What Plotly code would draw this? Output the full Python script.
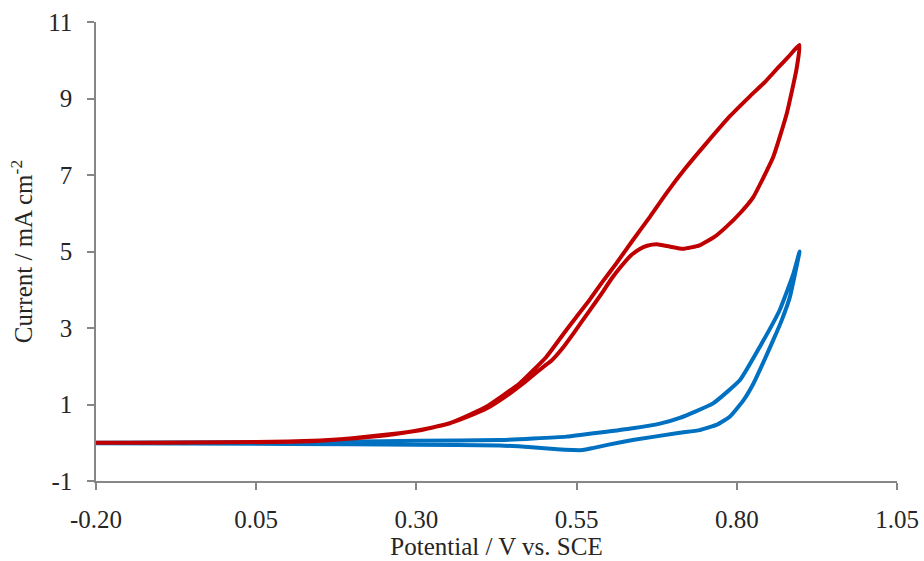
import plotly.graph_objects as go

# Cyclic voltammograms (anodic sweep then cathodic sweep), potential in V vs. SCE
red_fwd_E = [-0.20, -0.10, 0.00, 0.10, 0.15, 0.20, 0.25, 0.28, 0.31, 0.35, 0.38, 0.41, 0.44,
             0.47, 0.503, 0.511, 0.527, 0.546, 0.570, 0.589, 0.605, 0.620, 0.635, 0.648,
             0.660, 0.675, 0.695, 0.716, 0.742, 0.765, 0.784, 0.805, 0.826, 0.857, 0.878,
             0.893, 0.898]
red_fwd_I = [0.00, 0.00, 0.01, 0.03, 0.06, 0.11, 0.19, 0.26, 0.35, 0.50, 0.68, 0.90, 1.22,
             1.60, 2.05, 2.15, 2.45, 2.88, 3.45, 3.90, 4.30, 4.62, 4.90, 5.06,
             5.15, 5.19, 5.13, 5.07, 5.16, 5.38, 5.65, 6.00, 6.43, 7.48, 8.61,
             9.75, 10.40]
red_rev_E = [0.898, 0.880, 0.864, 0.845, 0.820, 0.790, 0.752, 0.720, 0.690, 0.665, 0.638,
             0.612, 0.590, 0.570, 0.534, 0.503, 0.461, 0.409, 0.383, 0.352, 0.310, 0.273,
             0.20, 0.117, 0.00, -0.20]
red_rev_I = [10.40, 10.08, 9.80, 9.45, 9.05, 8.55, 7.82, 7.18, 6.52, 5.92, 5.30,
             4.69, 4.20, 3.73, 2.95, 2.25, 1.55, 0.94, 0.73, 0.51, 0.34, 0.25,
             0.12, 0.03, 0.01, 0.00]

blue_fwd_E = [-0.20, 0.00, 0.20, 0.30, 0.43, 0.534, 0.6375, 0.68, 0.711, 0.763, 0.805,
              0.836, 0.867, 0.888, 0.898]
blue_fwd_I = [0.00, 0.01, 0.03, 0.05, 0.07, 0.16, 0.38, 0.50, 0.65, 1.03, 1.64,
              2.51, 3.47, 4.40, 5.00]
blue_rev_E = [0.898, 0.883, 0.870, 0.857, 0.840, 0.826, 0.810, 0.789, 0.770, 0.742, 0.711,
              0.6375, 0.60, 0.575, 0.56, 0.544, 0.52, 0.48, 0.43, 0.30, 0.10, -0.20]
blue_rev_I = [5.00, 3.82, 3.20, 2.69, 2.05, 1.55, 1.10, 0.68, 0.48, 0.33, 0.26,
              0.07, -0.05, -0.14, -0.19, -0.19, -0.17, -0.12, -0.07, -0.05, -0.03, -0.01]

x_ticks = [-0.20, 0.05, 0.30, 0.55, 0.80, 1.05]
y_ticks = [-1, 1, 3, 5, 7, 9, 11]

fig = go.Figure()
fig.add_trace(go.Scatter(x=blue_fwd_E + blue_rev_E[1:], y=blue_fwd_I + blue_rev_I[1:],
                         mode="lines", line=dict(color="#0070C0", width=4, shape="spline", smoothing=0.4),
                         showlegend=False))
fig.add_trace(go.Scatter(x=red_fwd_E + red_rev_E[1:], y=red_fwd_I + red_rev_I[1:],
                         mode="lines", line=dict(color="#C00000", width=4, shape="spline", smoothing=0.4),
                         showlegend=False))

axis_font = dict(family="Liberation Serif", size=25, color="#262626")
fig.update_layout(
    width=924, height=561,
    margin=dict(l=96, r=27, t=22, b=80),
    paper_bgcolor="white", plot_bgcolor="white",
    font=axis_font,
    xaxis=dict(range=[-0.20, 1.05], tickvals=x_ticks, ticktext=[f"{v:.2f}" for v in x_ticks],
               tickfont=axis_font, automargin=False,
               showgrid=False, zeroline=False, showline=True, linecolor="#868686", linewidth=1.5,
               ticks="outside", ticklen=7, tickcolor="#868686", tickwidth=1.5,
               ticklabelstandoff=8,
               title=dict(text="Potential / V vs. SCE", font=axis_font, standoff=3)),
    yaxis=dict(range=[-1, 11], tickvals=y_ticks, ticktext=[str(v) for v in y_ticks],
               tickfont=axis_font, automargin=False,
               showgrid=False, zeroline=False, showline=True, linecolor="#868686", linewidth=1.5,
               ticks="outside", ticklen=7, tickcolor="#868686", tickwidth=1.5,
               ticklabelstandoff=10,
               title=dict(text="Current / mA cm<sup>-2</sup>", font=axis_font, standoff=8)),
)

fig.write_html("out.html")
